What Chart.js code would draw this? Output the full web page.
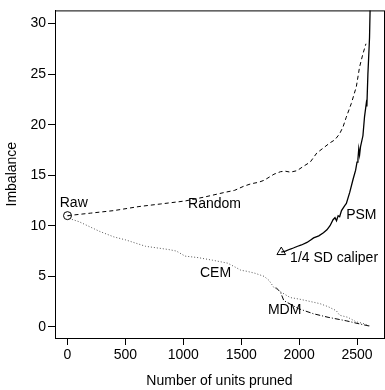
<!DOCTYPE html>
<html>
<head>
<meta charset="utf-8">
<script src="https://cdn.jsdelivr.net/npm/chart.js@4"></script>
<style>
  html, body { margin: 0; padding: 0; background: #fff; overflow: hidden; }
  #wrap { width: 390px; height: 390px; }
</style>
</head>
<body>
<div id="wrap"><canvas id="chart" width="390" height="390"></canvas></div>
<script>
// values: [units pruned, imbalance]
const randomPath = [
  [0, 11.0], [200, 11.25], [400, 11.5], [617, 11.9], [800, 12.15], [1014, 12.45],
  [1186, 12.85], [1357, 13.3], [1442, 13.5], [1520, 13.9], [1584, 14.15], [1650, 14.3],
  [1698, 14.5], [1783, 15.1], [1840, 15.35], [1880, 15.4], [1925, 15.3], [1982, 15.45],
  [2040, 15.9], [2096, 16.3], [2153, 17.2], [2210, 17.7], [2266, 18.2], [2309, 18.5],
  [2350, 19.1], [2380, 19.8], [2406, 20.7], [2451, 22.1], [2494, 23.75], [2522, 25.7],
  [2551, 27.0], [2577, 28.0]
];
const psmPath = [
  [1846, 7.4], [1882, 7.5], [1925, 7.7], [1950, 7.8], [1982, 7.95], [2020, 8.1],
  [2068, 8.35], [2100, 8.6], [2125, 8.8], [2170, 9.0], [2210, 9.3], [2240, 9.6],
  [2267, 10.0], [2293, 10.6], [2310, 10.8], [2323, 10.5], [2337, 11.0], [2350, 10.9],
  [2366, 11.5], [2394, 12.0], [2408, 12.2], [2437, 13.3], [2466, 14.6], [2488, 15.5],
  [2500, 16.3], [2508, 16.6], [2515, 17.6], [2522, 17.0], [2530, 17.8], [2551, 18.9],
  [2565, 20.8], [2580, 22.1], [2585, 21.8], [2594, 25.0], [2600, 26.5], [2608, 28.6],
  [2614, 32.0]
];
const cemPath = [
  [0, 11.0], [20, 10.7], [100, 10.4], [276, 9.45], [400, 8.9], [503, 8.6], [674, 7.97],
  [873, 7.65], [940, 7.5], [1015, 7.0], [1128, 6.85], [1250, 6.6], [1384, 6.3],
  [1450, 5.9], [1497, 5.6], [1548, 5.5], [1620, 5.3], [1697, 5.0], [1740, 4.6],
  [1782, 3.9], [1850, 3.4], [1923, 2.9], [2000, 2.75], [2100, 2.5], [2179, 2.3],
  [2250, 2.0], [2321, 1.6], [2350, 1.15], [2420, 0.95], [2492, 0.5], [2550, 0.35],
  [2620, 0.05]
];
const mdmPath = [
  [1800, 3.9], [1840, 3.4], [1868, 2.6], [1995, 1.8], [2123, 1.3], [2250, 0.95],
  [2407, 0.6], [2500, 0.35], [2620, 0.05]
];
const rawPoint = [[0, 11.0]];
const caliperPoint = [[1846, 7.4]];

const xTicks = [0, 500, 1000, 1500, 2000, 2500];
const yTicks = [0, 5, 10, 15, 20, 25, 30];

const curveLabels = [
  { text: "Raw", x: 54, y: 12.2 },
  { text: "Random", x: 1270, y: 12.15 },
  { text: "PSM", x: 2537, y: 11.1 },
  { text: "1/4 SD caliper", x: 2302, y: 6.8 },
  { text: "CEM", x: 1278, y: 5.35 },
  { text: "MDM", x: 1875, y: 1.65 }
];

const toXY = (arr) => arr.map(([x, y]) => ({ x, y }));
const font = { family: "'Liberation Sans', Arial, sans-serif", size: 14 };

const frame = {
  id: "frame",
  afterDraw(chart) {
    const { ctx, chartArea: a } = chart;
    ctx.save();
    ctx.strokeStyle = "#000";
    ctx.lineWidth = 1;
    ctx.strokeRect(a.left + 0.5, a.top + 0.5, a.right - a.left, a.bottom - a.top);
    ctx.restore();
  }
};

const textLabels = {
  id: "textLabels",
  afterDatasetsDraw(chart) {
    const { ctx, scales } = chart;
    ctx.save();
    ctx.font = "14px 'Liberation Sans', Arial, sans-serif";
    ctx.fillStyle = "#000";
    ctx.textAlign = "center";
    ctx.textBaseline = "middle";
    curveLabels.forEach((l) => {
      ctx.fillText(l.text, scales.x.getPixelForValue(l.x), scales.y.getPixelForValue(l.y));
    });
    ctx.restore();
  }
};

const lineSet = (data, dash, width, color) => ({
  data: toXY(data),
  showLine: true,
  borderColor: color,
  borderWidth: width,
  borderDash: dash,
  pointRadius: 0,
  tension: 0,
  fill: false
});

new Chart(document.getElementById("chart"), {
  type: "scatter",
  data: {
    datasets: [
      lineSet(randomPath, [4, 3], 1, "#000"),
      lineSet(cemPath, [1, 2], 1, "#555"),
      lineSet(mdmPath, [5, 2, 1, 2], 1, "#000"),
      lineSet(psmPath, [], 1.3, "#000"),
      {
        data: toXY(rawPoint),
        pointStyle: "circle",
        pointRadius: 4,
        pointBorderColor: "#000",
        pointBackgroundColor: "#fff",
        pointBorderWidth: 1
      },
      {
        data: toXY(caliperPoint),
        pointStyle: "triangle",
        pointRadius: 5,
        pointBorderColor: "#000",
        pointBackgroundColor: "#fff",
        pointBorderWidth: 1
      }
    ]
  },
  options: {
    responsive: false,
    animation: false,
    events: [],
    layout: { padding: { top: 6, right: 2, left: 0, bottom: 0 } },
    plugins: { legend: { display: false }, tooltip: { enabled: false } },
    scales: {
      x: {
        type: "linear",
        min: -108,
        max: 2733,
        afterBuildTicks: (s) => { s.ticks = xTicks.map((v) => ({ value: v })); },
        afterFit: (s) => { s.height = 52; },
        grid: { drawOnChartArea: false, tickLength: 7, color: "#000" },
        border: { display: true, color: "#000" },
        ticks: { color: "#000", font, padding: 2, maxRotation: 0, callback: (v) => String(v) },
        title: { display: true, text: "Number of units pruned", color: "#000", font, padding: 0 }
      },
      y: {
        type: "linear",
        min: -1.1,
        max: 31.3,
        afterBuildTicks: (s) => { s.ticks = yTicks.map((v) => ({ value: v })); },
        afterFit: (s) => { s.width = 55; },
        grid: { drawOnChartArea: false, tickLength: 7, color: "#000" },
        border: { display: true, color: "#000" },
        ticks: { color: "#000", font, padding: 2, callback: (v) => String(v) },
        title: { display: true, text: "Imbalance", color: "#000", font, padding: 4 }
      }
    }
  },
  plugins: [frame, textLabels]
});
</script>
</body>
</html>
